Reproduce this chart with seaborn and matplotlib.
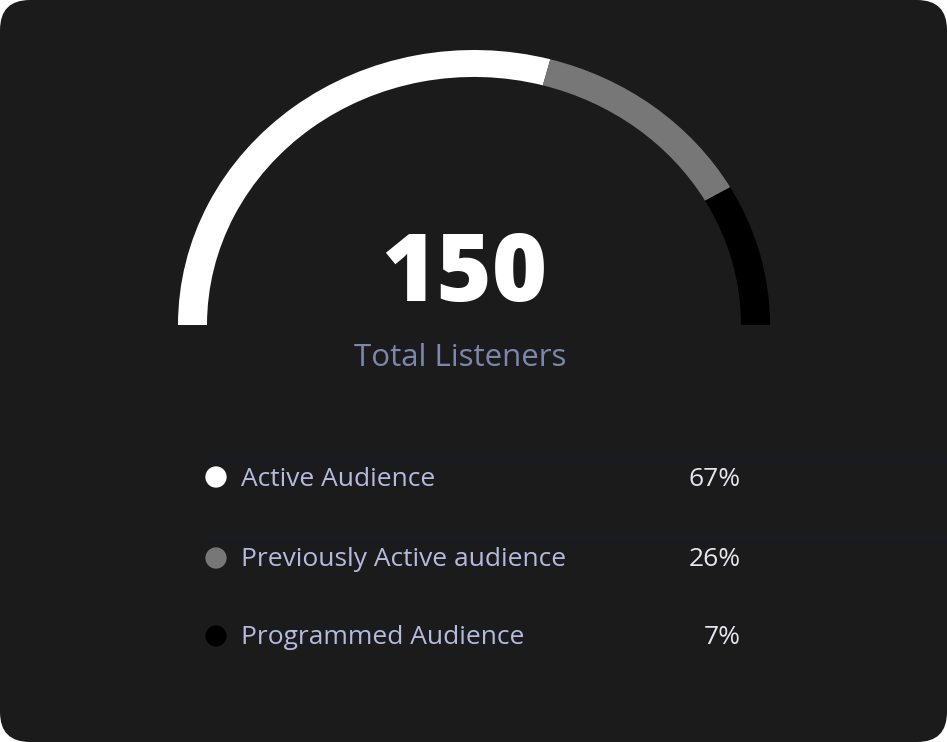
import matplotlib
matplotlib.use("Agg")
import matplotlib.pyplot as plt
from matplotlib.patches import FancyBboxPatch
import seaborn as sns
import pandas as pd

# gauge segments (share of the half circle, as drawn)
arc_values = [58.3, 25.0, 16.7]
arc_colors = ["#ffffff", "#777777", "#000000"]

# legend rows
labels = ["Active Audience", "Previously Active audience", "Programmed Audience"]
percents = [67, 26, 7]
total = 150
subtitle = "Total Listeners"

W, H = 947, 742
BG = "#1b1b1b"

sns.set_theme(style="dark")
plt.rcParams["font.family"] = ["Open Sans", "DejaVu Sans"]

fig = plt.figure(figsize=(W / 100, H / 100), dpi=100, facecolor="white")

# card + text layer, pixel coordinates
ax = fig.add_axes([0, 0, 1, 1])
ax.set_xlim(0, W)
ax.set_ylim(H, 0)
ax.axis("off")
ax.add_patch(FancyBboxPatch((30, 30), W - 60, H - 60,
                            boxstyle="round,pad=30", fc=BG, ec="none"))

# gauge
cx, cy, rx, ry = 474, 325, 296, 275
gax = fig.add_axes([(cx - rx) / W, (H - cy - ry) / H, 2 * rx / W, 2 * ry / H])
gax.pie(arc_values + [sum(arc_values)],
        colors=arc_colors + ["none"],
        startangle=180, counterclock=False,
        radius=1, wedgeprops=dict(width=29 / 296, linewidth=0))
gax.set_aspect("auto")
gax.set_xlim(-1, 1)
gax.set_ylim(-1, 1)
gax.axis("off")

ax.text(464, 276, str(total), ha="center", va="center", color="white",
        fontsize=68, fontweight="heavy")
ax.text(460, 358, subtitle, ha="center", va="center", color="#7d87ad",
        fontsize=22.5)

# legend
row_y = [477, 558, 636]
for yy in row_y[:2]:
    ax.plot([206, W], [yy - 16.5, yy - 16.5], color="#131a30", lw=1.2)

legend_df = pd.DataFrame({"x": [216] * 3, "y": row_y, "label": labels})
sns.scatterplot(data=legend_df, x="x", y="y", hue="label",
                palette=dict(zip(labels, arc_colors)), s=235,
                edgecolor="none", legend=False, ax=ax)
ax.set_xlim(0, W)
ax.set_ylim(H, 0)

for yy, lab, p in zip(row_y, labels, percents):
    ax.text(241, yy + 2, lab, ha="left", va="center", color="#b5bbe0",
            fontsize=19)
    ax.text(741, yy + 2, f"{p}%", ha="right", va="center", color="#e6e6f0",
            fontsize=19)

fig.savefig("out.png", dpi=100, facecolor="white")
